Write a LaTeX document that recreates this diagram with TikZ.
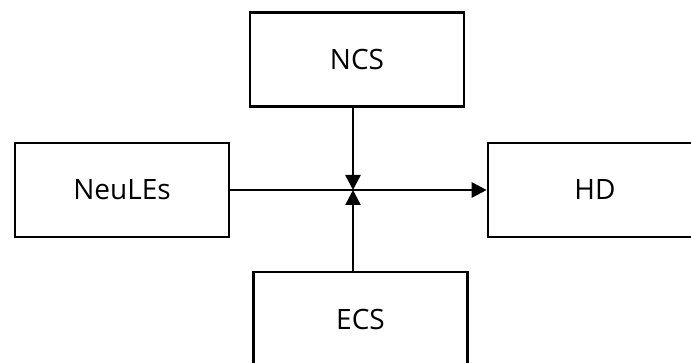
\documentclass[tikz,border=0pt]{standalone}
\usepackage{fontspec}
\setmainfont{Open Sans}
\usetikzlibrary{arrows.meta}

\begin{document}
\begin{tikzpicture}[x=1pt, y=-1pt, >={Triangle[length=15pt,width=15pt]}]
        \tikzstyle{block} = [draw=black, line width=2.6pt, minimum width=214pt, minimum height=94pt, font=\fontsize{28}{32}\selectfont]
        \useasboundingbox (0,0) rectangle (691,363);
        \node[block] (ncs) at (357,59.5) {NCS};
        \node[block] (neules) at (122,190) {NeuLEs};
        \node[block] (hd) at (595,190) {HD};
        \node[block] (ecs) at (360.5,319) {ECS};
        \coordinate (j) at (353,190);
        \draw[->, line width=2.6pt] (neules) -- (hd);
        \draw[->, line width=2.6pt] (ncs.south -| j) -- (j);
        \draw[->, line width=2.6pt] (ecs.north -| j) -- (j);
\end{tikzpicture}
\end{document}
